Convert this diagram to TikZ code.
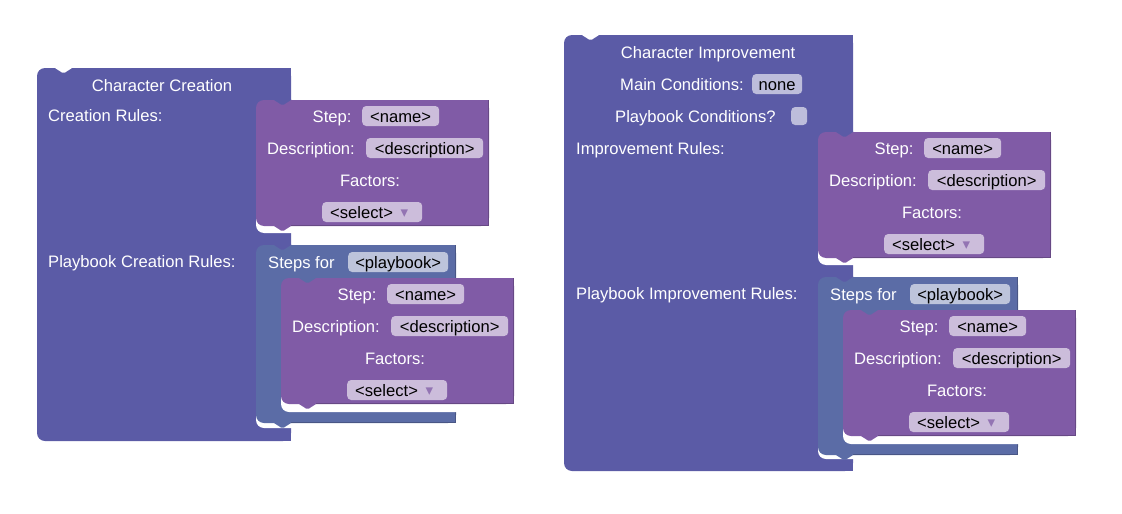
\documentclass[tikz,border=0pt]{standalone}
\usepackage{fontspec}
\setmainfont{Liberation Sans}
\newfontfamily\dejavufont{DejaVu Sans}
\usepackage{tikz}

\definecolor{blockcol}{RGB}{91,91,166}
\definecolor{loopcol}{RGB}{91,108,166}
\definecolor{stepcol}{RGB}{128,91,166}
\definecolor{blockfield}{RGB}{189,189,219}
\definecolor{loopfield}{RGB}{189,196,219}
\definecolor{stepfield}{RGB}{204,189,219}
\newcommand\dropglyph{{\dejavufont\fontsize{15}{15}\selectfont\textcolor{stepcol!85!white}{\raisebox{1pt}{▾}}}}

\begin{document}
\begin{tikzpicture}
    [
      x=1pt, y=-1pt,
      every node/.style={font=\fontsize{16.6}{20}\selectfont, text height=12pt, text depth=0pt, inner sep=0pt},
      lbl/.style={text=white},
      field/.style={text=black, rounded corners=4pt, minimum height=20pt, inner xsep=0pt},
      shade/.style={line width=1pt},
      pics/stepblock/.style={code={
        \fill[stepcol, rounded corners=8pt] (0,0) rectangle (233,126);
        \fill[stepcol] (20,0) rectangle (233,126);
        \draw[shade, stepcol!80!black] (232.5,0) -- (232.5,125.5) -- (35,125.5);
        \fill[#1] (18,-1) -- (18,0) -- (25,4.5) -- (28,4.5) -- (35,0) -- (35,-1) -- cycle;
        \fill[stepcol] (18,126) -- (25,130.5) -- (28,130.5) -- (35,126) -- cycle;
        \node (step) [lbl, anchor=west] at (56.5,16) {Step:};
        \node (name) [field, fill=stepfield, minimum width=77pt, anchor=west] at (106,16) {<name>};
        \node (desc) [lbl, anchor=west] at (11,48) {Description:};
        \node (descfield) [field, fill=stepfield, minimum width=117pt, anchor=west] at (110,48) {<description>};
        \node (factors) [lbl] at (114,80) {Factors:};
        \node (select) [field, fill=stepfield, anchor=west] at (66,112) {\hbox to 100pt{\hspace{8pt}<select>\hfill\dropglyph\hspace{14pt}}};
      }},
      pics/stepsfor/.style={code={
        \fill[loopcol, rounded corners=8pt] (0,0) rectangle (200,178);
        \fill[loopcol] (20,0) rectangle (200,178);
        \draw[shade, loopcol!80!black] (199.5,0) -- (199.5,33);
        \draw[shade, loopcol!80!black] (199.5,167) -- (199.5,177.5) -- (35,177.5);
        \fill[white, rounded corners=8pt] (25,33) rectangle (210,167);
        \fill[loopcol] (25,33) rectangle (35,43);
        \fill[#1] (18,-1) -- (18,0) -- (25,4.5) -- (28,4.5) -- (35,0) -- (35,-1) -- cycle;
        \fill[loopcol] (18,178) -- (25,182.5) -- (28,182.5) -- (35,178) -- cycle;
        \node (steps) [lbl, anchor=west] at (12,17) {Steps for};
        \node (playbook) [field, fill=loopfield, minimum width=100pt, anchor=west] at (92,17) {<playbook>};
      }},
    ]
    \useasboundingbox (0,0) rectangle (1122,514);

    % character creation
    \fill[blockcol, rounded corners=8pt] (37,68) rectangle (291,441);
    \fill[blockcol] (60,68) rectangle (291,441);
    \fill[white] (55,67) -- (55,68) -- (62,72.5) -- (65,72.5) -- (72,68) -- (72,67) -- cycle;
    \fill[white, rounded corners=8pt] (256,100) rectangle (300,233);
    \fill[white, rounded corners=8pt] (256,245) rectangle (300,428);
    \fill[blockcol] (256,100) rectangle (266,110);
    \fill[blockcol] (256,245) rectangle (266,255);

    \node (cctitle) [lbl] at (162,85.5) {Character Creation};
    \node (ccrules) [lbl, anchor=west] at (48,115) {Creation Rules:};
    \node (ccplay) [lbl, anchor=west] at (48,261) {Playbook Creation Rules:};

    \pic (ccstep) at (256,100) {stepblock=blockcol};
    \pic (ccloop) at (256,245) {stepsfor=blockcol};
    \pic (ccloopstep) at (281,278) {stepblock=loopcol};

    % character improvement
    \fill[blockcol, rounded corners=8pt] (564,35) rectangle (853,471);
    \fill[blockcol] (587,35) rectangle (853,471);
    \fill[white] (582,34) -- (582,35) -- (589,39.5) -- (592,39.5) -- (599,35) -- (599,34) -- cycle;
    \fill[white, rounded corners=8pt] (818,132) rectangle (862,265);
    \fill[white, rounded corners=8pt] (818,277) rectangle (862,459);
    \fill[blockcol] (818,132) rectangle (828,142);
    \fill[blockcol] (818,277) rectangle (828,287);

    \node (cititle) [lbl] at (708,52.5) {Character Improvement};
    \node (cimain) [lbl, anchor=west] at (620,84) {Main Conditions:};
    \node (cinone) [field, fill=blockfield, minimum width=50pt, anchor=west] at (752,84) {none};
    \node (cipbcond) [lbl, anchor=west] at (615,116) {Playbook Conditions?};
    \node (cicheck) [field, fill=blockfield, minimum width=16pt, minimum height=18pt, anchor=west] at (791,116) {};
    \node (cirules) [lbl, anchor=west] at (576,148) {Improvement Rules:};
    \node (ciplay) [lbl, anchor=west] at (576,293) {Playbook Improvement Rules:};

    \pic (cistep) at (818,132) {stepblock=blockcol};
    \pic (ciloop) at (818,277) {stepsfor=blockcol};
    \pic (ciloopstep) at (843,310) {stepblock=loopcol};

\end{tikzpicture}
\end{document}
